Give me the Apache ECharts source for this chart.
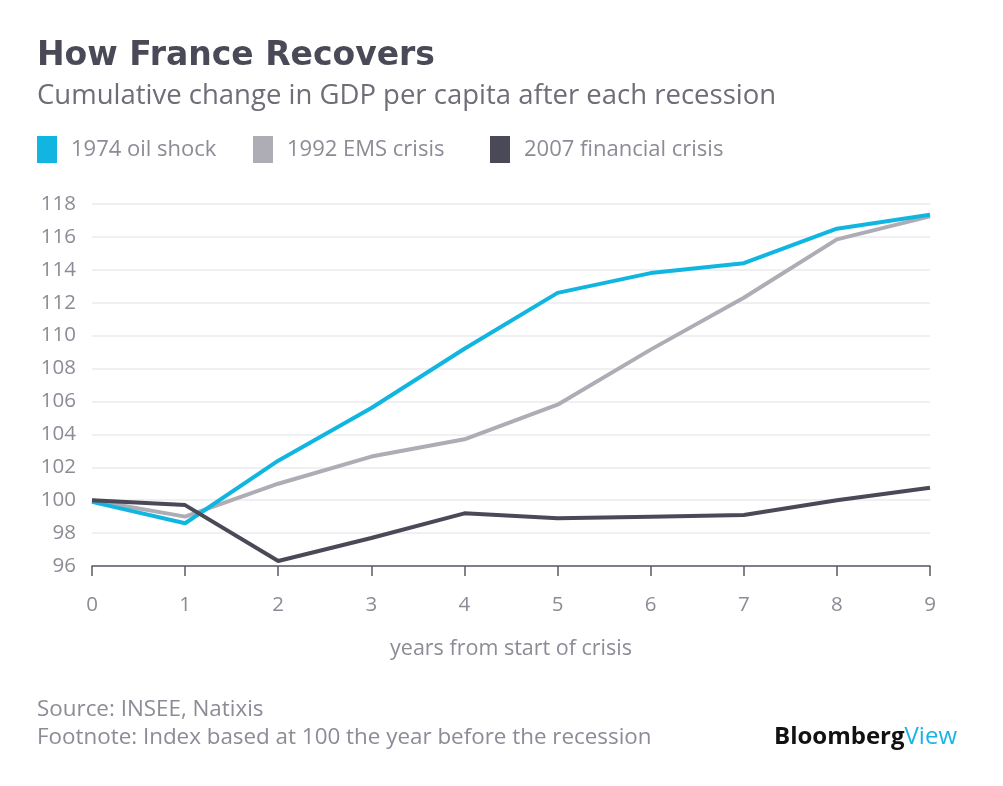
<!DOCTYPE html>
<html>
<head>
<meta charset="utf-8">
<script src="https://cdn.jsdelivr.net/npm/echarts@6/dist/echarts.min.js"></script>
<style>
html,body{margin:0;padding:0;background:#fff;}
#chart{width:1003px;height:786px;}
</style>
</head>
<body>
<div id="chart"></div>
<script>
var years = ['0','1','2','3','4','5','6','7','8','9'];
var oil1974 = [99.9, 98.6, 102.4, 105.6, 109.2, 112.6, 113.8, 114.4, 116.5, 117.35];
var ems1992 = [100.0, 99.0, 101.0, 102.65, 103.7, 105.8, 109.15, 112.3, 115.85, 117.25];
var fin2007 = [100.0, 99.7, 96.3, 97.7, 99.2, 98.9, 99.0, 99.1, 100.0, 100.75];
var seriesNames = ['1974 oil shock', '1992 EMS crisis', '2007 financial crisis'];
var yTicks = {min: 96, max: 118, interval: 2};

var FONT = '"Open Sans", sans-serif';
var textGrey = '#8c8b96';
var colors = ['#11b6e0', '#aeadb5', '#4a4957'];

function legendAt(name, left) {
  return {
    left: left, top: 131,
    icon: 'rect',
    itemWidth: 20, itemHeight: 27,
    data: [name],
    textStyle: {fontFamily: FONT, fontSize: 22, color: textGrey, padding: [0,0,0,9]}
  };
}

var chart = echarts.init(document.getElementById('chart'), null, {renderer: 'canvas'});
chart.setOption({
  backgroundColor: '#fff',
  animation: false,
  title: {
    text: 'How France Recovers',
    subtext: 'Cumulative change in GDP per capita after each recession',
    left: 32, top: 35,
    itemGap: 9,
    textStyle: {fontFamily: '"DejaVu Sans", sans-serif', fontSize: 33, fontWeight: 'bold', color: '#4a4957'},
    subtextStyle: {fontFamily: FONT, fontSize: 27.5, color: '#6e6d78'}
  },
  legend: [legendAt(seriesNames[0], 32), legendAt(seriesNames[1], 248), legendAt(seriesNames[2], 485)],
  grid: {left: 92, right: 73, top: 204, bottom: 220, containLabel: false},
  xAxis: {
    type: 'category',
    data: years,
    boundaryGap: false,
    name: 'years from start of crisis',
    nameLocation: 'middle',
    nameGap: 72,
    nameTextStyle: {fontFamily: FONT, fontSize: 21.5, color: textGrey},
    axisLine: {lineStyle: {color: '#5a5966', width: 1.5}},
    axisTick: {length: 10, lineStyle: {color: '#5a5966', width: 1.5}, alignWithLabel: true},
    axisLabel: {fontFamily: FONT, fontSize: 20.5, color: textGrey, margin: 29},
    splitLine: {show: false}
  },
  yAxis: {
    type: 'value',
    min: yTicks.min, max: yTicks.max, interval: yTicks.interval,
    axisLine: {show: false},
    axisTick: {show: false},
    axisLabel: {fontFamily: FONT, fontSize: 20.5, color: textGrey, margin: 16},
    splitLine: {lineStyle: {color: '#ebebee', width: 1.5}}
  },
  series: [
    {name: seriesNames[0], type: 'line', data: oil1974, symbol: 'none', lineStyle: {width: 4, color: colors[0]}, itemStyle: {color: colors[0]}, z: 3},
    {name: seriesNames[1], type: 'line', data: ems1992, symbol: 'none', lineStyle: {width: 4, color: colors[1]}, itemStyle: {color: colors[1]}, z: 2},
    {name: seriesNames[2], type: 'line', data: fin2007, symbol: 'none', lineStyle: {width: 4, color: colors[2]}, itemStyle: {color: colors[2]}, z: 4}
  ],
  graphic: [
    {type: 'text', left: 37, top: 699, style: {text: 'Source: INSEE, Natixis', fontFamily: FONT, fontSize: 22.4, fill: textGrey}},
    {type: 'text', left: 37, top: 727, style: {text: 'Footnote: Index based at 100 the year before the recession', fontFamily: FONT, fontSize: 22.4, fill: textGrey}},
    {type: 'text', right: 46, top: 725, style: {
      rich: {
        b: {fontFamily: FONT, fontSize: 24, fontWeight: 'bold', fill: '#111'},
        v: {fontFamily: FONT, fontSize: 24, fill: '#1ab3e6'}
      },
      text: '{b|Bloomberg}{v|View}'
    }}
  ]
});
</script>
</body>
</html>
